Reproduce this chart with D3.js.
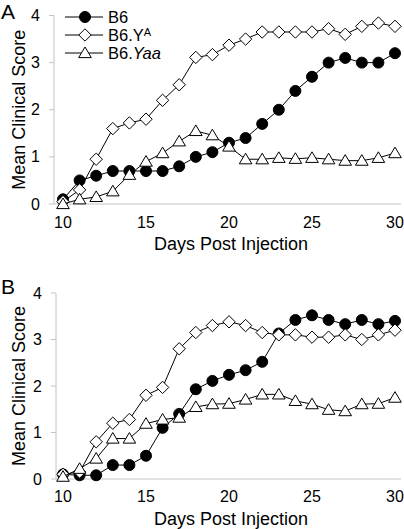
<!DOCTYPE html>
<html>
<head>
<meta charset="utf-8">
<script src="https://cdn.jsdelivr.net/npm/d3@7"></script>
<style>
  html, body { margin: 0; padding: 0; background: #fff; }
  svg { display: block; font-family: "Liberation Sans", Arial, sans-serif; }
</style>
</head>
<body>
<svg id="chart" width="404" height="529"></svg>
<script>
// ---------------- DATA ----------------
const days = [10,11,12,13,14,15,16,17,18,19,20,21,22,23,24,25,26,27,28,29,30];
const seriesNames = ["B6", "B6.YA", "B6.Yaa"];
const yTicks = [0, 1, 2, 3, 4];
const xTicks = [10, 15, 20, 25, 30];

// Panel A
const a_B6  = [0.1,0.5,0.6,0.7,0.7,0.7,0.7,0.8,1.0,1.1,1.3,1.4,1.7,2.0,2.4,2.7,3.0,3.1,3.0,3.0,3.2];
const a_YA  = [0.05,0.3,0.95,1.6,1.72,1.8,2.2,2.53,3.11,3.17,3.37,3.5,3.65,3.65,3.65,3.65,3.72,3.6,3.77,3.84,3.77];
const a_Yaa = [0.0,0.1,0.15,0.27,0.62,0.9,1.08,1.33,1.55,1.46,1.22,0.95,0.95,0.98,0.96,0.98,0.95,0.92,0.92,0.98,1.08];

// Panel B
const b_B6  = [0.1,0.08,0.08,0.3,0.3,0.5,1.1,1.4,1.93,2.11,2.24,2.34,2.52,3.13,3.42,3.52,3.42,3.33,3.42,3.33,3.4];
const b_YA  = [0.1,0.15,0.8,1.2,1.28,1.8,1.97,2.8,3.15,3.3,3.38,3.3,3.15,3.1,3.1,3.05,3.05,3.1,3.0,3.1,3.2];
const b_Yaa = [0.05,0.22,0.44,0.87,0.87,1.19,1.28,1.32,1.55,1.61,1.62,1.71,1.82,1.82,1.68,1.61,1.49,1.46,1.61,1.62,1.75];

// ---------------- DRAW ----------------
const svg = d3.select("#chart");
const axisGrey = "#c4c4c4";

const markerFills = ["#000", "#fff", "#fff"];
const markerPaths = [
  d3.symbol().type(d3.symbolCircle).size(95)(),
  "M0,-6.2L6.2,0L0,6.2L-6.2,0Z",
  "M0,-6L6.3,4.6L-6.3,4.6Z"
];

function marker(g, i) {
  return g.append("path").attr("d", markerPaths[i]).attr("fill", markerFills[i])
    .attr("stroke", "#000").attr("stroke-width", 1);
}

function panel(cfg) {
  const x = d3.scaleLinear().domain([10, 30]).range([cfg.x0, cfg.x1]);
  const y = d3.scaleLinear().domain([0, 4]).range([cfg.yb, cfg.yt]);
  const g = svg.append("g");

  g.append("line").attr("x1", cfg.axisX).attr("x2", cfg.axisX)
    .attr("y1", y(4)).attr("y2", y(0)).attr("stroke", axisGrey).attr("stroke-width", 1);
  g.append("line").attr("x1", cfg.axisX).attr("x2", cfg.xEnd)
    .attr("y1", y(0)).attr("y2", y(0)).attr("stroke", axisGrey).attr("stroke-width", 1);

  yTicks.forEach(t => {
    g.append("line").attr("x1", cfg.axisX - 5).attr("x2", cfg.axisX)
      .attr("y1", y(t)).attr("y2", y(t)).attr("stroke", axisGrey);
    g.append("text").attr("x", cfg.axisX - 14).attr("y", y(t)).attr("dy", "0.35em")
      .attr("text-anchor", "end").attr("font-size", 16).text(t);
  });
  xTicks.forEach(t => {
    g.append("text").attr("x", x(t)).attr("y", y(0) + cfg.xLabOff)
      .attr("text-anchor", "middle").attr("font-size", 16).text(t);
  });
  g.append("text").attr("x", (x(10) + x(30)) / 2 + 2).attr("y", cfg.xTitleY)
    .attr("text-anchor", "middle").attr("font-size", 18).text("Days Post Injection");
  g.append("text").attr("transform", `translate(25,${(y(0) + y(4)) / 2}) rotate(-90)`)
    .attr("text-anchor", "middle").attr("font-size", 18).text("Mean Clinical Score");
  g.append("text").attr("x", 1).attr("y", cfg.letterY).attr("font-size", 21).text(cfg.letter);

  const line = d3.line().x((d, i) => x(days[i])).y(d => y(d));
  cfg.data.forEach((vals, si) => {
    const sg = g.append("g");
    sg.append("path").attr("d", line(vals)).attr("fill", "none")
      .attr("stroke", "#000").attr("stroke-width", 1);
    vals.forEach((v, i) => {
      const mg = sg.append("g").attr("transform", `translate(${x(days[i])},${y(v)})`);
      marker(mg, si);
    });
  });
  return g;
}

panel({ x0: 63, x1: 395, yb: 204, yt: 15.5, axisX: 54, xEnd: 401, xLabOff: 24,
        xTitleY: 250, letter: "A", letterY: 19, data: [a_B6, a_YA, a_Yaa] });
panel({ x0: 63, x1: 395, yb: 479, yt: 293, axisX: 56, xEnd: 401, xLabOff: 23,
        xTitleY: 525, letter: "B", letterY: 294, data: [b_B6, b_YA, b_Yaa] });

// legend (panel A)
const legend = svg.append("g");
const legY = [17, 35, 53];
seriesNames.forEach((name, i) => {
  const lg = legend.append("g").attr("transform", `translate(0,${legY[i]})`);
  lg.append("line").attr("x1", 65).attr("x2", 103).attr("y1", 0).attr("y2", 0)
    .attr("stroke", "#000").attr("stroke-width", 1);
  marker(lg.append("g").attr("transform", "translate(85,0)"), i);
  const t = lg.append("text").attr("x", 108).attr("y", 0).attr("dy", "0.36em").attr("font-size", 16.5);
  if (i === 0) t.text("B6");
  if (i === 1) { t.append("tspan").text("B6.Y"); t.append("tspan").attr("dy", "-0.45em").attr("font-size", 11).text("A"); }
  if (i === 2) { t.append("tspan").text("B6."); t.append("tspan").attr("font-style", "italic").text("Yaa"); }
});
</script>
</body>
</html>
